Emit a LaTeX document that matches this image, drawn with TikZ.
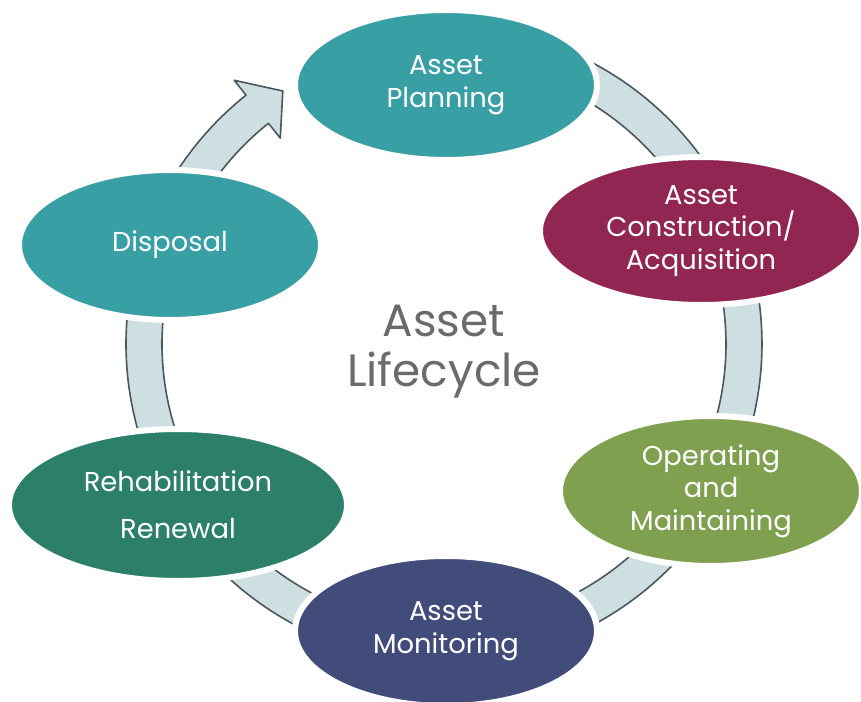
\documentclass[tikz,border=0pt]{standalone}
\usepackage{fontspec}
\setmainfont{Poppins}
\usetikzlibrary{shapes.geometric}
\definecolor{tealc}{HTML}{389FA5}
\definecolor{wine}{HTML}{922653}
\definecolor{leaf}{HTML}{7FA04F}
\definecolor{navyc}{HTML}{424C7A}
\definecolor{pine}{HTML}{2C7F68}
\definecolor{bandc}{HTML}{CEDFE2}
\definecolor{bandline}{HTML}{4B5661}
\definecolor{txtgray}{HTML}{6B6B6B}
\tikzset{
  stage/.style={ellipse, draw=white, line width=4.5pt, inner sep=0pt,
    minimum width=226.5pt, minimum height=112.5pt, text=white, align=center,
    font=\fontsize{20.5}{24.5}\selectfont},
  ring/.style={fill=bandc, draw=bandline, line width=1.2pt},
}
\begin{document}
\begin{tikzpicture}[x=0.75pt, y=-0.75pt, line join=round, line cap=round]
	\useasboundingbox (0,0) rectangle (861,702);
	\coordinate (c) at (444,344);
	\begin{scope}[shift={(c)}]
		\foreach \a/\b in {-90/-23.7, -23.7/28.8, 28.8/90, 90/148.8, 148.8/199.9}{
			\filldraw[ring] plot[domain=\a:\b, samples=60] (\x:318) -- plot[domain=\b:\a, samples=60] (\x:282) -- cycle;}
		\filldraw[ring] plot[domain=199.9:231.5, samples=40] (\x:318) -- (231.5:337) -- (237.5:300) -- (231.5:263)
			-- plot[domain=231.5:199.9, samples=40] (\x:282) -- cycle;
	\end{scope}
	\node[stage, fill=tealc] (plan) at (446,85) {Asset\\Planning};
	\node[stage, fill=wine, minimum width=241.5pt, minimum height=111pt] (build) at (701,231) {Asset\\Construction/\\Acquisition};
	\node[stage, fill=leaf] (operate) at (711,491) {Operating\\and\\Maintaining};
	\node[stage, fill=navyc] (monitor) at (446,631) {Asset\\Monitoring};
	\node[stage, fill=pine, minimum width=253.5pt, minimum height=114pt] (renew) at (178,505) {Rehabilitation\\[11pt]Renewal};
	\node[stage, fill=tealc] (dispose) at (170,245) {Disposal};
	\node[text=txtgray, align=center, font=\fontsize{34}{37.5}\selectfont] (title) at (444,352) {Asset\\Lifecycle};
\end{tikzpicture}
\end{document}
